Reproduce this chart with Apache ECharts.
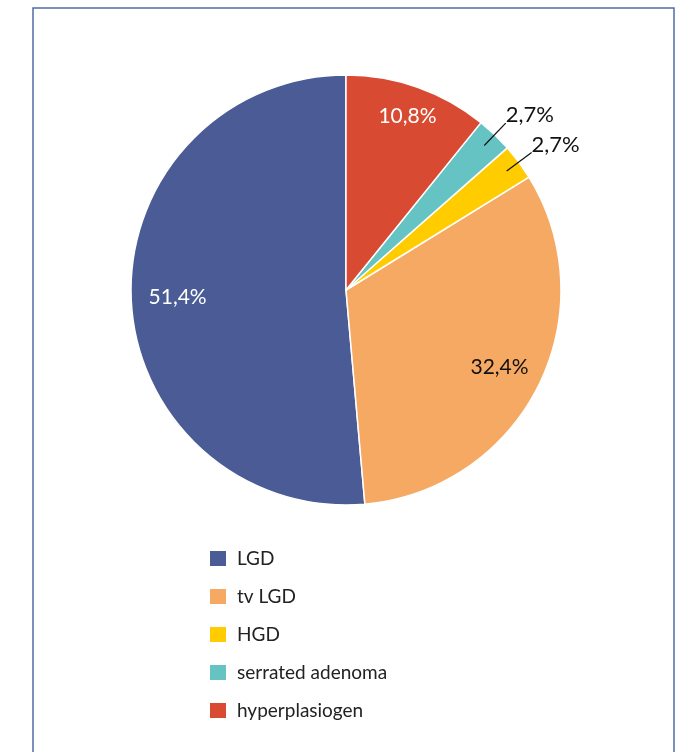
<!DOCTYPE html>
<html>
<head>
<meta charset="utf-8">
<script src="https://cdn.jsdelivr.net/npm/echarts@6/dist/echarts.min.js"></script>
<style>
html,body{margin:0;padding:0;background:#fff;}
#chart{width:677px;height:752px;}
</style>
</head>
<body>
<div id="chart"></div>
<script>
// Data (legend order; drawn counter-clockwise from 12 o'clock)
var categories = ['LGD', 'tv LGD', 'HGD', 'serrated adenoma', 'hyperplasiogen'];
var percents = [51.4, 32.4, 2.7, 2.7, 10.8];
var colors = ['#4A5B96', '#F6A963', '#FFCC00', '#66C3C3', '#D84A31'];
var insideLabelColors = ['#ffffff', '#111111', null, null, '#ffffff'];
var outsideLabelItems = ['HGD', 'serrated adenoma'];
// where each inside label sits, as a fraction of the radius
var insideLabelRadius = { 'LGD': 0.77, 'tv LGD': 0.785, 'hyperplasiogen': 0.845 };

var FONT = 'Lato, "Open Sans", sans-serif';
var R = 215;
var CENTER = [346, 290];

function fmt(v) { return v.toFixed(1).replace('.', ',') + '%'; }

var mainData = categories.map(function (c, i) {
  return { name: c, value: percents[i], itemStyle: { color: colors[i] } };
});

function insideSeries(cat) {
  var f = insideLabelRadius[cat];
  var inner = (2 * f - 1) * R;
  return {
    type: 'pie', name: 'label-' + cat,
    center: CENTER, radius: [inner, R],
    startAngle: 90, clockwise: false,
    silent: true, legendHoverLink: false,
    avoidLabelOverlap: false,
    z: 3,
    itemStyle: { color: 'rgba(0,0,0,0)' },
    label: {
      position: 'inside',
      fontFamily: FONT, fontSize: 21,
      formatter: function (p) { return fmt(p.value); }
    },
    labelLine: { show: false },
    data: categories.map(function (c, i) {
      return {
        name: c, value: percents[i],
        label: { show: c === cat, color: insideLabelColors[i] || '#000' }
      };
    })
  };
}

var outsideData = categories.map(function (c, i) {
  var show = outsideLabelItems.indexOf(c) >= 0;
  return {
    name: c, value: percents[i],
    label: { show: show },
    labelLine: { show: show }
  };
});

var series = [
  {
    type: 'pie', name: 'main',
    center: CENTER, radius: [0, R],
    startAngle: 90, clockwise: false,
    silent: true, z: 1,
    label: { show: false }, labelLine: { show: false },
    itemStyle: { borderColor: '#ffffff', borderWidth: 1.5 },
    data: mainData
  }
];
Object.keys(insideLabelRadius).forEach(function (c) { series.push(insideSeries(c)); });
series.push({
  type: 'pie', name: 'outsideLabels',
  center: CENTER, radius: [0, 200],
  startAngle: 90, clockwise: false,
  silent: true, legendHoverLink: false,
  avoidLabelOverlap: false,
  z: 4,
  itemStyle: { color: 'rgba(0,0,0,0)' },
  label: {
    position: 'outside',
    fontFamily: FONT, fontSize: 22, color: '#111',
    distanceToLabelLine: 1,
    offset: [-1, -8],
    formatter: function (p) { return fmt(p.value); }
  },
  labelLine: { length: 31, length2: 0, smooth: false, lineStyle: { color: '#111', width: 1.2 } },
  data: outsideData
});

var chart = echarts.init(document.getElementById('chart'), null, { renderer: 'canvas' });
chart.setOption({
  animation: false,
  backgroundColor: '#ffffff',
  graphic: [{
    type: 'rect', silent: true,
    shape: { x: 33, y: 8, width: 641, height: 800 },
    style: { fill: 'none', stroke: '#4F6FA2', lineWidth: 1.5 }
  }],
  legend: {
    orient: 'vertical',
    left: 208, top: 549,
    padding: 0,
    itemWidth: 18, itemHeight: 17,
    itemGap: 19,
    icon: 'rect',
    data: categories,
    textStyle: { fontFamily: FONT, fontSize: 19, color: '#222', lineHeight: 17, padding: [0, 0, 0, 5] }
  },
  series: series
});
</script>
</body>
</html>
